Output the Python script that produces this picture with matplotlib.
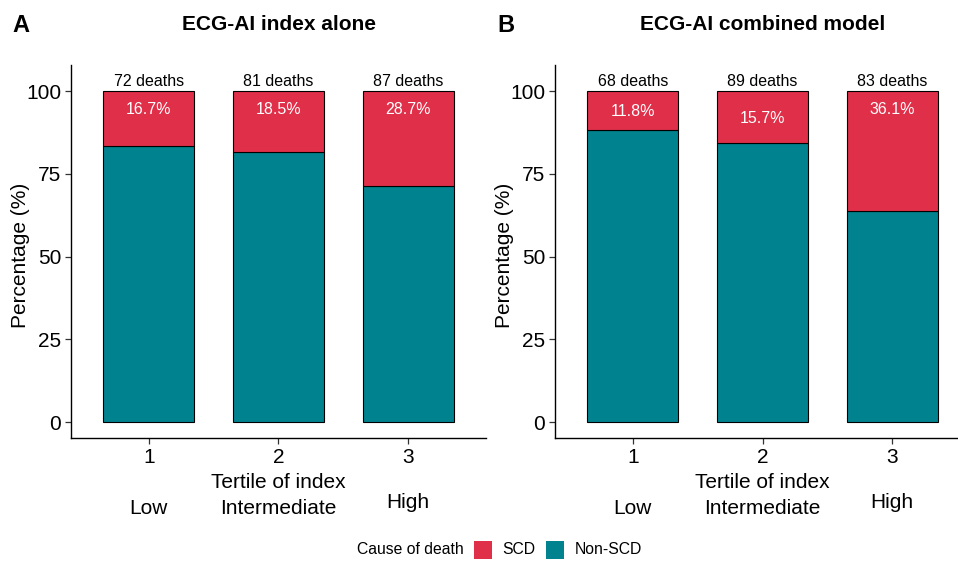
import matplotlib
matplotlib.use("Agg")
import matplotlib.pyplot as plt
from matplotlib.patches import Rectangle
import numpy as np

plt.rcParams['font.family'] = ['Liberation Sans', 'DejaVu Sans']

tertiles = [1, 2, 3]
tertile_names = ["Low", "Intermediate", "High"]
panel_letters = ["A", "B"]
panel_titles = ["ECG-AI index alone", "ECG-AI combined model"]
scd_pct_A = [16.7, 18.5, 28.7]
scd_pct_B = [11.8, 15.7, 36.1]
deaths_A = [72, 81, 87]
deaths_B = [68, 89, 83]
series = [(scd_pct_A, deaths_A), (scd_pct_B, deaths_B)]

# label y positions (layout)
label_y = [[94.6, 94.6, 94.6], [93.7, 91.8, 94.6]]
name_y_px = [508, 508, 503]

RED = "#E02F48"
TEAL = "#00838F"

W, H = 958, 562
fig = plt.figure(figsize=(W / 100, H / 100), dpi=100)

def fx(px):
    return px / W

def fy(py):
    return 1 - py / H

lefts = [71, 555]
ax_w = 415
top, bottom = 65, 438
AX_FS = 15

for i, (pcts, deaths) in enumerate(series):
    ax = fig.add_axes([fx(lefts[i]), fy(bottom), ax_w / W, (bottom - top) / H])
    pcts = np.array(pcts)
    non = 100 - pcts
    ax.bar(tertiles, non, width=0.7, color=TEAL, edgecolor="black", linewidth=0.8)
    ax.bar(tertiles, pcts, bottom=non, width=0.7, color=RED, edgecolor="black", linewidth=0.8)
    for x, p, d, ly in zip(tertiles, pcts, deaths, label_y[i]):
        ax.text(x, ly, f"{p:.1f}%", ha="center", va="center", color="white", fontsize=11.5)
        ax.text(x, 100.5, f"{d} deaths", ha="center", va="bottom", color="black", fontsize=11.5)
    ax.set_xlim(0.4, 3.6)
    ax.set_ylim(-4.8, 107.9)
    ax.set_yticks([0, 25, 50, 75, 100])
    ax.set_xticks(tertiles)
    ax.tick_params(axis="both", labelsize=AX_FS, length=4, width=0.9, color="#333333", labelcolor="black")
    ax.tick_params(axis="y", pad=3)
    ax.tick_params(axis="x", pad=3)
    for s in ["top", "right"]:
        ax.spines[s].set_visible(False)
    for s in ["left", "bottom"]:
        ax.spines[s].set_linewidth(1.0)
        ax.spines[s].set_color("black")
    ax.set_ylabel("Percentage (%)", fontsize=AX_FS, va="center")
    ax.yaxis.set_label_coords((21 - 71) / ax_w, (bottom - 255) / (bottom - top))
    cx = lefts[i] + (2 - 0.4) / 3.2 * ax_w
    fig.text(fx(cx), fy(483), "Tertile of index", ha="center", va="center", fontsize=AX_FS)
    for x, nm, ypx in zip(tertiles, tertile_names, name_y_px):
        px = lefts[i] + (x - 0.4) / 3.2 * ax_w
        fig.text(fx(px), fy(ypx), nm, ha="center", va="center", fontsize=AX_FS)
    fig.text(fx(cx), fy(25), panel_titles[i], ha="center", va="center", fontsize=15, fontweight="bold")
    fig.text(fx([12, 497][i]), fy(25), panel_letters[i], ha="left", va="center", fontsize=17, fontweight="bold")

# legend
fig.text(fx(357), fy(550), "Cause of death", ha="left", va="center", fontsize=11.3)
fig.add_artist(Rectangle((fx(474), fy(559)), 18 / W, 18 / H, transform=fig.transFigure, facecolor=RED, edgecolor="none"))
fig.text(fx(502), fy(550), "SCD", ha="left", va="center", fontsize=11.3)
fig.add_artist(Rectangle((fx(546), fy(559)), 18 / W, 18 / H, transform=fig.transFigure, facecolor=TEAL, edgecolor="none"))
fig.text(fx(575), fy(550), "Non-SCD", ha="left", va="center", fontsize=11.3)

fig.savefig("out.png", dpi=100)
